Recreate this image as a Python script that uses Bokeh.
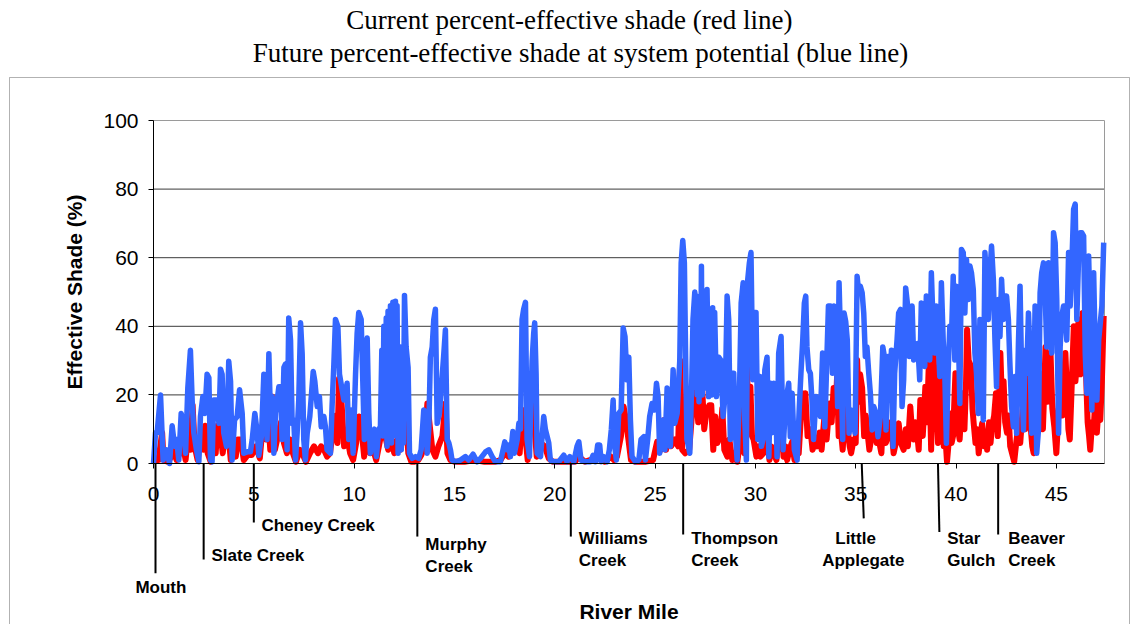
from bokeh.plotting import figure
from bokeh.models import Range1d, FixedTicker, BoxAnnotation
from bokeh.core.properties import value
from bokeh.embed import file_html
from bokeh.resources import INLINE

# ---------------- data ----------------
title_lines = ["Current percent-effective shade (red line)",
               "Future percent-effective shade at system potential (blue line)"]
x_ticks = [0, 5, 10, 15, 20, 25, 30, 35, 40, 45]
y_ticks = [0, 20, 40, 60, 80, 100]
river_end = 47.4

trib_names = ["Mouth", "Slate Creek", "Cheney Creek", "Murphy Creek", "Williams Creek",
              "Thompson Creek", "Little Applegate", "Star Gulch", "Beaver Creek"]
trib_miles = [0.1, 2.5, 5.0, 13.15, 20.8, 26.4, 35.3, 39.1, 42.1]

blue_mile = [0.0, 0.1, 0.18, 0.35, 0.48, 0.65, 0.8, 0.93, 1.05, 1.15, 1.26, 1.38, 1.51, 1.6, 1.71, 1.84, 1.93, 2.01, 2.14, 2.26,
             2.34, 2.46, 2.56, 2.67, 2.76, 2.84, 2.92, 3.0, 3.17, 3.26, 3.34, 3.42, 3.5, 3.64, 3.75, 3.84, 3.92, 4.04, 4.17, 4.29,
             4.42, 4.5, 4.67, 4.83, 4.92, 5.05, 5.17, 5.25, 5.38, 5.5, 5.58, 5.66, 5.75, 5.83, 5.91, 6.0, 6.08, 6.25, 6.33, 6.41,
             6.5, 6.58, 6.66, 6.74, 6.83, 6.91, 6.99, 7.08, 7.16, 7.24, 7.33, 7.41, 7.49, 7.57, 7.66, 7.79, 7.96, 8.04, 8.16, 8.27,
             8.36, 8.49, 8.57, 8.65, 8.82, 8.9, 8.99, 9.07, 9.19, 9.27, 9.4, 9.49, 9.65, 9.73, 9.85, 9.95, 10.07, 10.15, 10.23, 10.35,
             10.43, 10.51, 10.6, 10.65, 10.73, 10.81, 10.93, 11.01, 11.11, 11.23, 11.31, 11.38, 11.43, 11.48, 11.53, 11.6, 11.64, 11.69, 11.75, 11.81,
             11.86, 11.93, 11.99, 12.06, 12.1, 12.14, 12.19, 12.23, 12.27,
             12.31, 12.35, 12.39, 12.45, 12.51, 12.59, 12.69, 12.76, 12.89, 13.06, 13.22, 13.34, 13.47, 13.56, 13.64, 13.72, 13.8, 13.89, 13.97, 14.05, 14.14, 14.25,
             14.35, 14.47, 14.55, 14.64, 14.72, 14.8, 14.88, 15.05, 15.3, 15.55, 15.71, 15.93, 16.13, 16.3, 16.55, 16.71, 16.88, 17.04, 17.29, 17.51,
             17.62, 17.71, 17.79, 17.91, 17.99, 18.13, 18.21, 18.29, 18.37, 18.45, 18.54, 18.62, 18.74, 18.87, 18.95, 19.0, 19.07, 19.12, 19.29, 19.45,
             19.53, 19.7, 19.78, 19.95, 20.2, 20.45, 20.61, 20.75, 20.95, 21.11, 21.2, 21.31, 21.53, 21.78, 21.91, 22.03, 22.14, 22.24, 22.31, 22.44,
             22.61, 22.72, 22.82, 22.91, 22.97, 23.07, 23.19, 23.31, 23.41, 23.5, 23.6, 23.69, 23.77, 23.85, 24.02, 24.19, 24.3, 24.44, 24.52, 24.63,
             24.73, 24.85, 24.97, 25.07, 25.15, 25.23, 25.32, 25.4, 25.49, 25.6, 25.68, 25.76, 25.9, 25.98, 26.1, 26.23, 26.3, 26.38, 26.46, 26.53,
             26.59, 26.73, 26.83, 26.89, 26.98, 27.02, 27.06, 27.1, 27.14, 27.19, 27.23, 27.27, 27.31, 27.35, 27.39, 27.43, 27.47, 27.53, 27.59, 27.67,
             27.76, 27.82, 27.87, 27.92, 27.97, 28.06, 28.17, 28.29, 28.39,
             28.5, 28.59, 28.67, 28.75, 28.84, 28.92, 29.0, 29.09, 29.2, 29.29, 29.39, 29.47, 29.55, 29.62, 29.7, 29.78, 29.87, 29.95, 30.03, 30.12,
             30.22, 30.3, 30.38, 30.47, 30.58, 30.67, 30.75, 30.83, 30.92, 31.0, 31.08, 31.16, 31.28, 31.38, 31.46, 31.58, 31.66, 31.74, 31.83, 31.94,
             32.08, 32.19, 32.27, 32.36, 32.44, 32.51, 32.57, 32.66, 32.74, 32.82, 32.9, 33.02, 33.12, 33.24, 33.35, 33.46, 33.54, 33.64, 33.74, 33.84,
             33.92, 34.02, 34.1, 34.17, 34.27, 34.35, 34.42, 34.5, 34.58, 34.67, 34.77, 34.87, 34.97, 35.07, 35.15, 35.23, 35.32, 35.4, 35.48, 35.56,
             35.65, 35.73, 35.82, 35.9, 36.01, 36.11, 36.23, 36.35, 36.43, 36.51, 36.61, 36.69, 36.78, 36.86, 36.94, 37.06, 37.14, 37.23, 37.31, 37.39,
             37.49, 37.59, 37.67, 37.72, 37.81, 37.89, 38.02, 38.09, 38.19, 38.27, 38.36, 38.44, 38.52, 38.6, 38.69, 38.77, 38.86, 38.94, 39.02, 39.11,
             39.19, 39.27, 39.36, 39.44, 39.52, 39.61, 39.69, 39.77, 39.86, 39.94, 40.02, 40.11, 40.19, 40.27, 40.36, 40.44, 40.52, 40.61, 40.69, 40.77,
             40.86, 40.94, 41.02, 41.11, 41.19, 41.27, 41.36, 41.44, 41.52, 41.61, 41.69, 41.77, 41.86, 41.94, 42.02, 42.11, 42.19, 42.27, 42.36, 42.44,
             42.52, 42.61, 42.69, 42.77, 42.86, 42.94, 43.02, 43.11, 43.19, 43.27, 43.36, 43.44, 43.52, 43.61, 43.69, 43.77, 43.86, 43.94, 44.02, 44.11,
             44.19, 44.27, 44.36, 44.44, 44.52, 44.61, 44.69, 44.77, 44.86, 44.94, 45.02, 45.11, 45.19, 45.27, 45.36, 45.44, 45.52, 45.61, 45.69, 45.77,
             45.86, 45.94, 46.02, 46.11, 46.19, 46.27, 46.36, 46.44, 46.52, 46.61, 46.69, 46.77, 46.86, 46.94, 47.02, 47.11, 47.19, 47.27, 47.36]
blue_pct = [0, 9, 9, 20, 1, 4, 0, 11, 5, 7, 1, 14.6, 10, 3, 22, 33, 18, 9, 4, 0.5,
            13.7, 19.5, 14.6, 26, 25, 1, 0.5, 18.5, 18.5, 11.7, 27.5, 26, 9, 5, 29.8, 24, 1, 12.7, 13.7, 21.5,
            14.6, 3, 3.4, 3.4, 7, 14.6, 9, 2.4, 8, 26, 24, 7, 32, 13.7, 19.5, 3, 14.6, 22.4, 22.4, 7,
            28, 29, 4, 42.4, 36, 11.7, 12.7, 1, 9, 18.5, 41, 32, 7, 1, 8.8, 13.7, 26.8, 24, 16.6, 19.5,
            10.7, 13.7, 10.7, 4, 3, 16.6, 29, 42, 40, 26, 21.5, 18.5, 23.4, 7, 15.6, 3, 26, 38, 44, 42,
            24.4, 7, 34, 36.6, 14.6, 3, 9, 10, 2, 10, 10.7, 33, 8, 40, 12, 42.4, 5, 44.4, 15, 46,
            6, 47, 20, 47.3, 8, 46, 3, 34, 10,
            34, 4, 27, 6, 49, 34, 28, 3, 1.5, 2, 1.5, 4, 15.6, 14.6, 3, 10, 31, 34, 42, 45, 11.7, 14.6,
            22.4, 32, 39, 7, 6, 4, 1, 0.5, 1, 2, 1, 2.7, 0.5, 1.5, 3.4, 4, 2, 0.5, 0.5, 6.3,
            4, 5.4, 2, 9.3, 3, 7, 11.7, 10, 42, 45, 47, 7, 2, 30, 38, 41, 26, 3, 2, 13.7,
            10, 6, 1, 0.5, 0.5, 2.4, 0.5, 2, 0.5, 5, 6.3, 1, 0.5, 0.5, 2.4, 0.5, 5.4, 5.4, 0.5, 2,
            0.5, 4, 10, 18.5, 6, 1, 14.6, 15.6, 39.5, 37, 24.4, 31, 12.7, 2, 0.5, 1, 7, 7.8, 1, 7,
            13.7, 17.5, 15.6, 23.4, 19.5, 3, 10, 12.7, 4, 22, 14.6, 5, 27.3, 11.7, 14.6, 30, 58.5, 65, 58.5, 28,
            7, 3, 24.4, 42, 50, 22, 48.8, 20, 38, 18, 43, 22, 57.5, 20, 42, 25, 46, 22, 50.7, 19.5,
            43, 20, 45.4, 25, 44, 19.5, 31, 30, 13.7,
            20.5, 48.8, 42, 7, 26.3, 26.3, 9, 1, 18.5, 46.8, 52.7, 12.7, 1, 53.7, 58.5, 61.5, 24.4, 44, 44, 7,
            25.4, 5, 7, 27.3, 31, 2, 23.4, 9, 23.4, 22.4, 2, 32.2, 37, 4, 12.7, 20.5, 23.4, 7.8, 20.5, 4,
            1, 16.6, 26.3, 36, 46.8, 48.8, 34, 27.3, 26.3, 18.5, 7, 19.5, 16.6, 13.7, 32.2, 10.7, 26.3, 45.9, 45.9, 26.3,
            45.9, 34, 16.6, 52.7, 30.2, 7, 43.9, 41.5, 36, 8.8, 15.6, 12.7, 8.8, 54.6, 49.8, 51.7, 49.8, 43.9, 31.2, 34,
            26.3, 20.5, 9.8, 16.6, 14.6, 7.8, 13.7, 34, 31.2, 9.8, 31.2, 18.5, 33, 5, 26.3, 36, 43.9, 44.9, 16.6, 24.4,
            51.2, 45.9, 31.2, 32.2, 45.9, 30.2, 33, 35, 24.4, 46.8, 38, 28.3, 48.8, 36, 30.2, 55.6, 40, 32.2, 45.9, 36,
            25.4, 52.7, 36, 26.3, 5.9, 27.3, 40, 36, 54.6, 30.2, 51.7, 40, 17.5, 62.4, 61.5, 43.9, 59.5, 47.8, 57.6, 55.6,
            50.7, 32.2, 26.3, 14.6, 42, 30.2, 12.7, 61.5, 53.7, 42, 55.6, 63.4, 53.7, 36, 22.4, 47.8, 37, 53.7, 42, 48.8,
            48.8, 42, 28.3, 16.6, 10.7, 25.4, 8.8, 35, 51.7, 26.3, 9.8, 33, 26.3, 43.9, 32.2, 8.8, 14.6, 45.9, 3, 9.8,
            49.8, 55.6, 58.5, 49.8, 34, 58.5, 41, 32.2, 67.3, 64.4, 47.8, 8.8, 34, 42.9, 45.9, 45.9, 36, 61.5, 45.9, 57.6,
            74.1, 75.6, 42, 60.5, 67.3, 67.3, 66.3, 32.2, 20.5, 60.5, 40, 15.6, 55.6, 32.2, 18.5, 36, 41, 45.9, 64.4]

red_mile = [0.0, 0.1, 0.25, 0.43, 0.5, 0.7, 0.9, 1.0, 1.15, 1.3, 1.45, 1.6, 1.75, 1.85, 1.95, 2.05, 2.2, 2.4, 2.5, 2.58,
            2.7, 2.85, 3.0, 3.1, 3.18, 3.3, 3.45, 3.6, 3.7, 3.85, 4.0, 4.1, 4.2, 4.35, 4.5, 4.7, 4.9, 5.1, 5.3, 5.45,
            5.6, 5.75, 5.82, 5.9, 6.05, 6.2, 6.35, 6.5, 6.65, 6.8, 6.95, 7.1, 7.3, 7.45, 7.6, 7.8, 8.0, 8.2, 8.35, 8.5,
            8.65, 8.8, 8.95, 9.1, 9.17, 9.25, 9.35, 9.5, 9.65, 9.8, 9.95, 10.1, 10.25, 10.4, 10.5, 10.65, 10.8, 10.95, 11.1, 11.3,
            11.4, 11.55, 11.7, 11.85, 12.0, 12.15, 12.3, 12.45, 12.55, 12.7, 12.85, 13.0, 13.2, 13.35, 13.5, 13.65, 13.75, 13.9, 14.05, 14.2,
            14.4, 14.55, 14.65, 14.8, 15.0, 15.5, 16.0, 16.5, 17.0, 17.3, 17.5, 17.7, 17.9, 18.1, 18.25, 18.4, 18.5, 18.65, 18.8, 18.9,
            19.0, 19.1, 19.3, 19.5, 19.7, 19.9, 20.5, 21.0, 21.2, 21.5, 22.0, 22.2, 22.5, 22.8, 22.95, 23.1, 23.3, 23.43, 23.55, 23.65,
            23.8, 24.0, 24.5, 24.9, 25.1, 25.3, 25.45, 25.55, 25.7, 25.8, 26.0, 26.15, 26.25, 26.35, 26.5, 26.7, 26.85, 26.95, 27.05, 27.15,
            27.25, 27.35, 27.45, 27.55, 27.7, 27.8, 27.9, 28.0, 28.1, 28.25, 28.35, 28.45, 28.6, 28.7, 28.85, 29.0, 29.1, 29.22, 29.34, 29.45,
            29.55, 29.65, 29.75, 29.83, 29.91, 30.05, 30.15, 30.25, 30.4, 30.5, 30.58, 30.7, 30.8, 30.92, 31.05, 31.15, 31.28, 31.4, 31.5, 31.58,
            31.7, 31.83, 31.95, 32.05, 32.16, 32.25, 32.33, 32.41, 32.49, 32.6, 32.74, 32.85, 32.95, 33.07, 33.2, 33.3, 33.44, 33.55, 33.69, 33.8,
            33.9, 34.0, 34.07, 34.15, 34.24, 34.35, 34.49, 34.6, 34.7, 34.77, 34.9, 35.0, 35.07, 35.15, 35.22, 35.32, 35.42, 35.5, 35.57, 35.68,
            35.8, 35.94, 36.05, 36.15, 36.28, 36.4, 36.5, 36.64, 36.75, 36.89, 37.0, 37.14, 37.25, 37.39, 37.5, 37.6, 37.72, 37.8, 37.89, 37.97,
            38.06, 38.14, 38.22, 38.34, 38.4, 38.47, 38.55, 38.67, 38.72, 38.76, 38.86, 38.94, 39.02, 39.1, 39.22, 39.3, 39.39, 39.47, 39.55, 39.63,
            39.72, 39.78, 39.85, 39.97, 40.05, 40.18, 40.25, 40.33, 40.42, 40.5, 40.55, 40.63, 40.75, 40.82, 40.88, 40.97, 41.05, 41.13, 41.22, 41.3,
            41.4, 41.48, 41.55, 41.65, 41.72, 41.79, 41.9, 41.99, 42.08, 42.15, 42.21, 42.3, 42.37, 42.45, 42.54, 42.62, 42.7, 42.79, 42.9, 43.0,
            43.12, 43.2, 43.3, 43.37, 43.45, 43.55, 43.62, 43.7, 43.8, 43.87, 43.95, 44.05, 44.16, 44.25, 44.33, 44.4, 44.46, 44.55, 44.63, 44.71,
            44.8, 44.9, 45.0, 45.08, 45.2, 45.3, 45.38, 45.45, 45.55, 45.6, 45.67, 45.75, 45.87, 45.95, 46.03, 46.11, 46.2, 46.27, 46.31, 46.4,
            46.48, 46.56, 46.63, 46.69, 46.78, 46.86, 46.94, 47.02, 47.1, 47.19, 47.27, 47.36]
red_pct = [0.5, 1, 1, 9, 1, 0.5, 2, 5, 1, 3, 6, 1, 10, 4, 17, 5, 1, 10, 4, 11,
           3, 0.5, 9, 3, 11, 10.7, 3, 10, 11, 1, 5, 2, 7, 7, 1, 2.5, 2.5, 5, 1.5, 11.7,
           7, 10, 4, 19.5, 4, 8, 12, 6, 3, 7, 3, 0.5, 4, 2.5, 0.5, 3, 5, 3, 5, 4,
           2, 3, 10, 14, 6, 24.8, 20, 5, 8, 3, 1, 6, 13.7, 8, 2, 13.7, 3, 4, 1, 7,
           11.7, 8, 4, 7, 3, 7, 4, 14, 16.6, 3, 0.5, 0.5, 1, 2.5, 5, 17.5, 12, 4, 2, 5,
           8, 17.5, 3, 1, 0.5, 0.5, 1, 0.5, 0.5, 1, 3, 2, 5, 6, 3, 15.6, 10, 1, 23, 25,
           10, 2, 6, 5, 1.5, 0.5, 0.5, 0.5, 2, 0.5, 1.5, 1.5, 0.5, 2, 1, 2, 8, 16.6, 12.7, 8,
           1, 0.5, 0.5, 1, 6.3, 4, 12.7, 4, 14.6, 5, 7, 5, 30, 4, 3, 4, 15, 27.3, 20, 12,
           37, 21.5, 10, 14.6, 17, 17, 4, 13.7, 6, 8, 16, 4, 2, 7, 1, 3, 0.5, 6, 21.5, 3,
           36, 12, 22.4, 8, 7, 2, 5, 2, 3, 7, 8.8, 1, 5, 3, 1, 9, 12.7, 2, 5, 1,
           4, 6.3, 1, 3, 3, 12, 20.5, 14, 20.5, 8, 10, 4, 6, 5, 9, 4, 13.7, 7, 17.5, 12,
           22, 15, 25.4, 8, 10.7, 4, 16.6, 10, 5, 3, 7, 6, 30.2, 18, 26, 22, 8, 14, 10, 4,
           8, 12.7, 6, 7, 3, 18.5, 6, 8.8, 12, 3, 6, 11.7, 6, 4, 10, 5, 16.6, 10, 7, 12,
           9, 4, 18.5, 8, 14, 22.4, 12, 34, 14, 4, 40, 18, 16.6, 6, 28.3, 12, 5, 8, 0.5, 6,
           14.6, 6, 8, 26.3, 12, 7, 14, 20.5, 10, 24, 39, 30, 28.3, 16, 11.7, 6, 10, 3, 8, 11.7,
           5, 9, 4, 12, 6, 10.7, 14, 20.5, 8, 18, 32.2, 16, 24, 12, 9, 14, 5, 3, 0.5, 6,
           11.7, 6, 14, 20.5, 10, 16, 28.3, 12, 5, 3, 10, 16, 26.3, 14, 10, 22, 34, 18, 26, 32.2,
           16, 10.7, 3, 12, 26.3, 14, 22, 32.2, 18, 10, 7, 20, 40, 24, 30, 42, 26, 38, 43.9, 32,
           26.3, 12, 8, 4, 12, 10, 18.5, 9, 16, 12.7, 24, 43]

assert len(blue_mile) == len(blue_pct) and len(red_mile) == len(red_pct)

# ---------------- figure (frame = whole canvas, axes pinned at 0) ----------------
W, H = 1130, 624
X0_PX, PX_PER_MILE = 153.0, 951.0 / river_end        # screen position of mile 0, scale
Y0_PX, PX_PER_PCT = 463.0, 3.43                      # screen position of 0 %, scale
x_rng = Range1d(-X0_PX / PX_PER_MILE, (W - X0_PX) / PX_PER_MILE)
y_rng = Range1d((Y0_PX - H) / PX_PER_PCT, Y0_PX / PX_PER_PCT)

FONT = "Liberation Sans"
p = figure(width=W, height=H, output_backend="svg", toolbar_location=None,
           x_range=x_rng, y_range=y_rng, min_border=0)
p.min_border_left = p.min_border_right = p.min_border_top = p.min_border_bottom = 0
p.title.visible = False
p.background_fill_color = "white"
p.border_fill_color = "white"
p.outline_line_color = None
p.grid.visible = False

p.xaxis.ticker = FixedTicker(ticks=x_ticks)
p.yaxis.ticker = FixedTicker(ticks=y_ticks)
p.xaxis.fixed_location = 0
p.yaxis.fixed_location = 0
p.xaxis.bounds = (0, river_end)
p.yaxis.bounds = (0, 100)
for ax in (p.xaxis[0], p.yaxis[0]):
    ax.axis_line_color = "black"
    ax.axis_line_width = 1
    ax.major_tick_line_color = "black"
    ax.major_tick_in = 0
    ax.major_tick_out = 5
    ax.minor_tick_line_color = None
    ax.major_label_text_font = FONT
    ax.major_label_text_font_size = "21px"
    ax.major_label_text_color = "black"
    ax.axis_label_text_font = FONT
    ax.axis_label_text_font_style = "bold"
    ax.axis_label_text_font_size = "21px"
    ax.axis_label_text_color = "black"
p.xaxis.axis_label = "River Mile"
p.yaxis.axis_label = "Effective Shade (%)"
p.xaxis.major_label_standoff = 18
p.yaxis.major_label_standoff = 10
p.xaxis.axis_label_standoff = 96
p.yaxis.axis_label_standoff = 14

# horizontal gridlines and plot-area border
grid_y = [t for t in y_ticks if 0 < t < 100]
p.segment(x0=[0] * len(grid_y), x1=[river_end] * len(grid_y), y0=grid_y, y1=grid_y,
          line_color="#3a3a3a", line_width=1)
p.segment(x0=[0, river_end], x1=[river_end, river_end], y0=[100, 0], y1=[100, 100],
          line_color="#9a9a9a", line_width=1)

# data lines
p.line(red_mile, red_pct, line_color="#FF0000", line_width=6, line_join="round")
p.line(blue_mile, blue_pct, line_color="#3366FF", line_width=5.5, line_join="round")

# outer chart-area box
p.add_layout(BoxAnnotation(left=9, right=1129, top=77, bottom=900,
                           left_units="canvas", right_units="canvas",
                           top_units="canvas", bottom_units="canvas",
                           fill_alpha=0, fill_color=None, line_color="black", line_width=1))

# title (two centred lines)
p.text(x=[20.73, 21.28], y=[129.4, 119.8], text=title_lines,
       text_align="center", text_baseline="middle",
       text_font=value("Liberation Serif"), text_font_size="27px", text_color="black")

# tributary markers: (line bottom, tilt, [(label dx, text, label y)])
row1, row2 = -21.9, -28.3
layout = [
    (-32.0, 0.0, [(-1.0, "Mouth", -36.2)]),
    (-28.0, 0.0, [(0.39, "Slate Creek", -26.8)]),
    (-17.2, 0.0, [(0.38, "Cheney Creek", -18.1)]),
    (-21.3, 0.0, [(0.40, "Murphy", -23.6), (0.40, "Creek", -30.0)]),
    (-21.3, 0.0, [(0.40, "Williams", row1), (0.40, "Creek", row2)]),
    (-20.7, 0.0, [(0.40, "Thompson", row1), (0.40, "Creek", row2)]),
    (-16.0, 0.1, [(-1.32, "Little", row1), (-1.97, "Applegate", row2)]),
    (-20.0, 0.07, [(0.46, "Star", row1), (0.46, "Gulch", row2)]),
    (-20.7, 0.0, [(0.50, "Beaver", row1), (0.50, "Creek", row2)]),
]
x0s, y0s, x1s, y1s, lx, ly, lt = [], [], [], [], [], [], []
for mile, (ybot, tilt, rows) in zip(trib_miles, layout):
    x0s.append(mile); y0s.append(0); x1s.append(mile + tilt); y1s.append(ybot)
    for dx, t, ry in rows:
        lx.append(mile + dx); ly.append(ry); lt.append(t)
p.segment(x0=x0s, y0=y0s, x1=x1s, y1=y1s, line_color="black", line_width=2)
p.text(x=lx, y=ly, text=lt, text_align="left", text_baseline="middle",
       text_font=value(FONT), text_font_style="bold", text_font_size="17px", text_color="black")

open("out.html", "w").write(file_html(p, INLINE))
